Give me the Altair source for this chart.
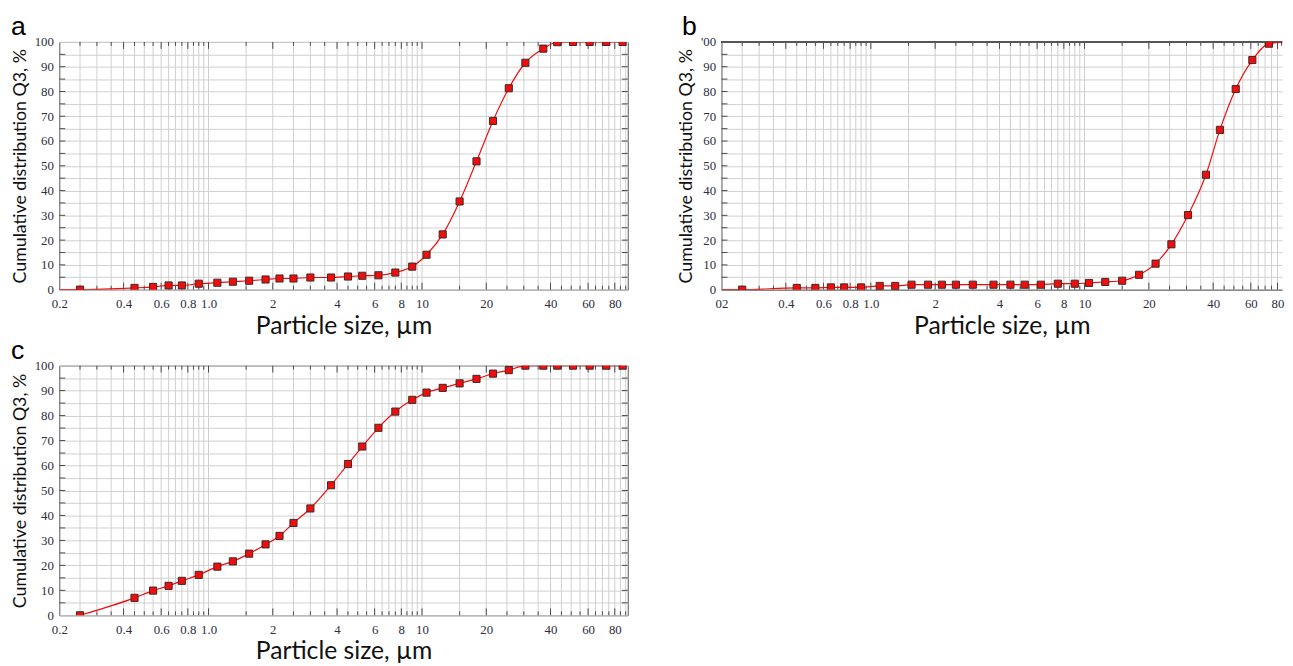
import altair as alt
import pandas as pd
import math

# ---- data ----
sizes = [0.25, 0.45, 0.55, 0.65, 0.75, 0.9, 1.1, 1.3, 1.55, 1.85, 2.15, 2.5, 3.0,
         3.75, 4.5, 5.25, 6.25, 7.5, 9.0, 10.5, 12.5, 15, 18, 21.5, 25.5, 30.5,
         37, 43, 51, 61, 73, 87]
q3_a = [0.0, 0.7, 1.1, 1.7, 1.7, 2.4, 2.8, 3.2, 3.6, 4.1, 4.5, 4.5, 4.9,
        4.9, 5.3, 5.6, 5.8, 6.9, 9.3, 14.1, 22.3, 35.6, 51.8, 68.1, 81.3, 91.6,
        97.3, 99.9, 100, 100, 100, 100]
q3_b = [0.0, 0.7, 0.7, 0.9, 0.9, 0.9, 1.5, 1.5, 2.0, 2.0, 2.0, 2.0, 2.0,
        2.0, 2.0, 2.0, 2.0, 2.4, 2.4, 2.7, 3.1, 3.6, 6.0, 10.5, 18.3, 30.1,
        46.4, 64.5, 81.0, 92.7, 99.3, 100]
q3_c = [0.0, 7.0, 9.9, 11.8, 13.8, 16.2, 19.5, 21.6, 24.7, 28.4, 31.8, 37.0, 42.8,
        52.1, 60.6, 67.6, 75.1, 81.6, 86.3, 89.2, 91.1, 92.9, 94.7, 96.8, 98.2, 100,
        100, 100, 100, 100, 100, 100]
line_start = [0.2, 0.0]

x_labels = [0.2, 0.4, 0.6, 0.8, 1.0, 2, 4, 6, 8, 10, 20, 40, 60, 80]
y_labels = [0, 10, 20, 30, 40, 50, 60, 70, 80, 90, 100]
x_grid = ([0.25, 0.3, 0.35, 0.4, 0.45, 0.5, 0.55, 0.6, 0.65, 0.7, 0.75, 0.8, 0.85, 0.9, 0.95, 1.0, 1.5]
          + [2.0, 2.5, 3.0, 3.5, 4.0, 4.5, 5.0, 5.5, 6.0, 6.5, 7.0, 7.5, 8.0, 8.5, 9.0, 9.5, 10.0]
          + [15, 20, 25, 30, 35, 40, 45, 50, 55, 60, 65, 70, 75, 80, 85, 90])
y_grid = [0, 5, 10, 15, 20, 25, 30, 35, 40, 45, 50, 55, 60, 65, 70, 75, 80, 85, 90, 95, 100]

XT = "Particle size, µm"
YT = "Cumulative distribution Q3, %"
XMIN = 0.2
DECADE = 216.4
RED = "#f20d0d"
GRID = "#cfcfcf"
TICK = "#4a4a4a"
FRAME = "#555555"
LABEL_C = "#2e2e3e"


def panel(q, xmax, H, letter, letter_dx, first_lab="0.2", top_lab="100", full_frame=True, lead=True):
    W = round(DECADE * math.log10(xmax / XMIN))
    xs = alt.Scale(type="log", domain=[XMIN, xmax], nice=False)
    ys = alt.Scale(domain=[0, 100], nice=False)

    x_expr = f'datum.value == 1 ? "1.0" : datum.value == 0.2 ? "{first_lab}" : format(datum.value, "~g")'
    ylab_js = "[" + ",".join(str(v) for v in y_labels) + "]"
    y_expr = (f'indexof({ylab_js}, datum.value) < 0 ? "" : '
              f'datum.value == 100 ? "{top_lab}" : datum.label')

    xaxis = alt.Axis(values=x_labels, title=XT, labelExpr=x_expr,
                     grid=False, ticks=False, tickSize=0, domain=not full_frame,
                     domainColor=FRAME, labelOverlap=False, labelFlush=False,
                     labelPadding=8, titlePadding=3)
    yaxis = alt.Axis(values=y_grid, title=YT, labelExpr=y_expr,
                     grid=True, gridColor=GRID, gridWidth=1, ticks=False, tickSize=0,
                     domain=not full_frame, domainColor=FRAME, labelOverlap=False,
                     labelFlush=False, labelPadding=6, titlePadding=5)
    xe = lambda: alt.X("size:Q", scale=xs, axis=xaxis)
    ye = lambda: alt.Y("q3:Q", scale=ys, axis=yaxis)

    pts = pd.DataFrame({"size": sizes, "q3": q})
    if lead:
        ln = pd.DataFrame({"size": [line_start[0]] + sizes, "q3": [line_start[1]] + q})
    else:
        ln = pts
    gx = pd.DataFrame({"size": [v for v in x_grid if v < xmax]})
    gy = pd.DataFrame({"q3": y_grid[1:-1]})
    lab_set = set(x_labels)
    tx_major = pd.DataFrame({"size": [v for v in x_grid if v in lab_set and v < xmax]})
    tx_minor = pd.DataFrame({"size": [v for v in x_grid if v not in lab_set and v < xmax]})

    def xt(df, L, top):
        y0, y1 = (0, L) if top else (H - L, H)
        return alt.Chart(df).mark_rule(color=TICK, strokeWidth=1).encode(
            x=xe(), y=alt.value(y0), y2=alt.value(y1))

    def yt(right):
        x0, x1 = (W - 6, W) if right else (0, 6)
        return alt.Chart(gy).mark_rule(color=TICK, strokeWidth=1).encode(
            y=ye(), x=alt.value(x0), x2=alt.value(x1))

    vgrid = alt.Chart(gx).mark_rule(color=GRID, strokeWidth=1).encode(
        x=xe(), y=alt.value(0), y2=alt.value(H))

    layers = [vgrid,
              xt(tx_major, 7, True), xt(tx_minor, 4, True),
              xt(tx_major, 7, False), xt(tx_minor, 4, False),
              yt(False)]
    if full_frame:
        layers.append(yt(True))
    else:
        layers.append(alt.Chart(gy).mark_rule(color=FRAME, strokeWidth=1).encode(
            x=alt.value(0), x2=alt.value(W), y=alt.value(0)))

    line = alt.Chart(ln).mark_line(color=RED, strokeWidth=1.2, interpolate="monotone", clip=True).encode(
        x=xe(), y=ye())
    points = alt.Chart(pts).mark_point(shape="square", filled=True, size=52, color=RED,
                                       stroke="#3a2a2a", strokeWidth=1, opacity=1, clip=True).encode(
        x=xe(), y=ye())
    tag = alt.Chart(pd.DataFrame({"t": [letter]})).mark_text(
        font="Liberation Sans", fontSize=27, color="#000000", align="left", baseline="alphabetic").encode(
        text="t:N", x=alt.value(letter_dx), y=alt.value(-7))

    ch = alt.layer(*layers, line, points, tag).properties(
        width=W, height=H,
        view=alt.ViewBackground(stroke=FRAME if full_frame else "transparent", strokeWidth=1))
    return ch


a = panel(q3_a, 92, 251, "a", -49)
b = panel(q3_b, 84, 251, "b", -40, first_lab="02", top_lab="'00", full_frame=False)
c = panel(q3_c, 92, 253, "c", -49, lead=False)

chart = alt.vconcat(alt.hconcat(a, b, spacing=49), c, spacing=-3).properties(
    padding={"left": 2, "top": 0, "right": 0, "bottom": 0}
).configure_axis(
    labelFont="Liberation Serif", labelFontSize=13, labelColor=LABEL_C,
    titleFont="Lato", titleFontSize=25, titleFontWeight="normal", titleColor="#111111"
).configure_axisY(titleFontSize=18).configure_view(stroke=FRAME)

chart.save("out.html", embed_options={"renderer": "svg", "actions": False})
